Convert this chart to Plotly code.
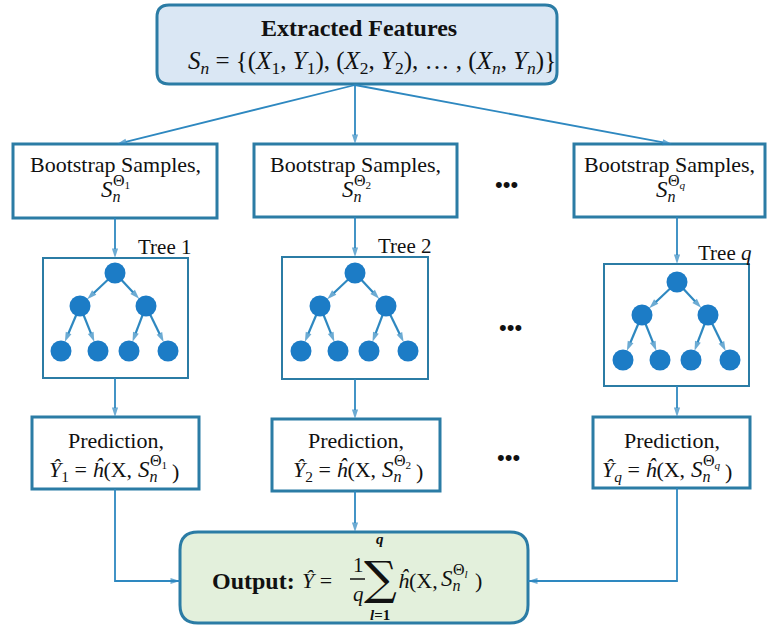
import plotly.graph_objects as go

# ---------------- text content ----------------
TITLE = "<b>Extracted Features</b>"
SAMPLE_SET = ("<i>S</i><sub><i>n</i></sub> = {(<i>X</i><sub>1</sub>, <i>Y</i><sub>1</sub>), "
              "(<i>X</i><sub>2</sub>, <i>Y</i><sub>2</sub>), … , "
              "(<i>X</i><sub><i>n</i></sub>, <i>Y</i><sub><i>n</i></sub>)}")
BOOT_LABEL = "Bootstrap Samples,"
TREE_LABELS = ["Tree 1", "Tree 2", "Tree <i>q</i>"]
TREE_INDEX = ["1", "2", "<i>q</i>"]
PRED_LABEL = "Prediction,"
OUTPUT_LABEL = "<b>Output:</b>"
ELLIPSIS = "•••"
NODES_PER_LEVEL = [1, 2, 4]

# ---------------- geometry (pixels) ----------------
W, H = 767, 628
TOP_BOX = (157, 5, 557, 84)
OUT_BOX = (180, 532, 528, 623)
BOOT_BOXES = [(13, 144, 217, 218), (254, 144, 457, 217), (574, 144, 765, 217)]
TREE_BOXES = [(43, 258, 188, 378), (282, 257, 428, 379), (604, 264, 749, 386)]
PRED_BOXES = [(32, 417, 199, 489), (272, 419, 440, 491), (593, 417, 750, 488)]
PRED_S_DX = [17, 21, 14]
COL_X = [115, 355, 677]
TREE_ROOT_Y = [273, 273, 282]
LEVEL_DX = [[0], [-35, 31], [-54, -17, 14, 53]]
LEVEL_DY = [0, 33, 78]
DOTS_POS = [(506, 184), (510, 327), (508, 457)]

BORDER = "#2b7ca5"
ARROW = "#2e88c0"
NODE = "#1c7cc6"
TOPFILL = "#dae7f4"
OUTFILL = "#e3f0dc"
SERIF = "Liberation Serif"
TXT = "#111111"

fig = go.Figure()


def rounded(x0, y0, x1, y1, r):
    return (f"M {x0+r},{y0} L {x1-r},{y0} Q {x1},{y0} {x1},{y0+r} "
            f"L {x1},{y1-r} Q {x1},{y1} {x1-r},{y1} L {x0+r},{y1} "
            f"Q {x0},{y1} {x0},{y1-r} L {x0},{y0+r} Q {x0},{y0} {x0+r},{y0} Z")


def rect(box, width=3):
    x0, y0, x1, y1 = box
    fig.add_shape(type="rect", x0=x0, y0=y0, x1=x1, y1=y1, layer="below",
                  line=dict(color=BORDER, width=width), fillcolor="white")


def text(x, y, s, size=22, xanchor="center", yanchor="middle", color=TXT, family=SERIF):
    fig.add_annotation(x=x, y=y, text=s, showarrow=False, xanchor=xanchor, yanchor=yanchor,
                       font=dict(family=family, size=size, color=color), borderpad=0,
                       borderwidth=0)


def arrow(pts, standoff=0, width=1.8, head=10):
    xs = [p[0] for p in pts]
    ys = [p[1] for p in pts]
    sizes = [0] * (len(pts) - 1) + [head]
    fig.add_trace(go.Scatter(x=xs, y=ys, mode="lines+markers", hoverinfo="skip",
                             line=dict(color=ARROW, width=width),
                             marker=dict(symbol="arrow", size=sizes, angleref="previous",
                                         color=ARROW, standoff=standoff, line=dict(width=0))))


def s_theta(xl, y, idx, size=23, tx=12, ty=10):
    # S_n with stacked superscript Theta_idx
    text(xl, y, "<i>S</i><sub><i>n</i></sub>", size=size, xanchor="left")
    text(xl + tx, y - ty, "Θ<sub>" + idx + "</sub>", size=16, xanchor="left")


# ---------------- top box ----------------
fig.add_shape(type="path", path=rounded(*TOP_BOX, 12), layer="below",
              line=dict(color=BORDER, width=3), fillcolor=TOPFILL)
text(359, 28, TITLE, size=24)
text(372, 62, SAMPLE_SET, size=25)

# ---------------- output box ----------------
fig.add_shape(type="path", path=rounded(*OUT_BOX, 18), layer="below",
              line=dict(color=BORDER, width=3), fillcolor=OUTFILL)

# top box -> bootstrap boxes
for tx in (117, 355, 672):
    arrow([(355, 85), (tx, 144)])

# ---------------- columns ----------------
for i in range(3):
    bx = BOOT_BOXES[i]
    rect(bx)
    cx = (bx[0] + bx[2]) / 2
    text(cx, 164, BOOT_LABEL, size=22)
    s_theta(cx - 14, 191, TREE_INDEX[i])

    tb = TREE_BOXES[i]
    rect(tb, width=2)
    text(tb[2] + 3, tb[1] - 11, TREE_LABELS[i], size=21, xanchor="right")

    pb = PRED_BOXES[i]
    rect(pb)
    pcx = (pb[0] + pb[2]) / 2
    text(pcx, 440, PRED_LABEL, size=22)
    xs = pcx + PRED_S_DX[i]
    yb = 471
    text(xs - 1, yb, "<i>Ŷ</i><sub>" + TREE_INDEX[i] + "</sub> = <i>ĥ</i>(X,", size=22, xanchor="right")
    s_theta(xs + 5, yb, TREE_INDEX[i])
    text(xs + 39, yb, ")", size=22, xanchor="left")

    # vertical connectors
    arrow([(COL_X[i], bx[3]), (COL_X[i], tb[1])])
    arrow([(COL_X[i], tb[3]), (COL_X[i], pb[1])])

    # tree edges then nodes
    cxn, ry = COL_X[i], TREE_ROOT_Y[i]
    pts = [[(cxn + dx, ry + LEVEL_DY[l]) for dx in LEVEL_DX[l]] for l in range(3)]
    for l in range(2):
        for k, par in enumerate(pts[l]):
            for ch in (pts[l + 1][2 * k], pts[l + 1][2 * k + 1]):
                arrow([par, ch], standoff=10, width=2.2, head=10)
    xs_n = [p[0] for lv in pts for p in lv]
    ys_n = [p[1] for lv in pts for p in lv]
    fig.add_trace(go.Scatter(x=xs_n, y=ys_n, mode="markers", hoverinfo="skip",
                             marker=dict(size=21, color=NODE, line=dict(width=0))))

# predictions -> output
arrow([(115, 489), (115, 581), (180, 581)])
arrow([(355, 491), (355, 532)])
arrow([(677, 488), (677, 581), (528, 581)])

# ellipses
for (dx_, dy_) in DOTS_POS:
    text(dx_, dy_, ELLIPSIS, size=22, family="Liberation Sans")

# ---------------- output formula ----------------
text(212, 581, OUTPUT_LABEL, size=24, xanchor="left")
text(302, 580, "<i>Ŷ</i> =", size=22, xanchor="left")
text(358, 565, "1", size=21)
fig.add_shape(type="line", x0=350, y0=579, x1=365, y1=579, line=dict(color=TXT, width=1.5))
text(358, 594, "<i>q</i>", size=21)
text(380, 578, "∑", size=46, family="DejaVu Serif")
text(380, 539, "<b><i>q</i></b>", size=15)
text(380, 615, "<b><i>l</i>=1</b>", size=15)
text(438, 580, "<i>ĥ</i>(X,", size=22, xanchor="right")
s_theta(441, 580, "<i>l</i>")
text(475, 580, ")", size=22, xanchor="left")

fig.update_xaxes(range=[0, W], visible=False, fixedrange=True)
fig.update_yaxes(range=[H, 0], visible=False, fixedrange=True)
fig.update_layout(width=W, height=H, margin=dict(l=0, r=0, t=0, b=0),
                  plot_bgcolor="white", paper_bgcolor="white", showlegend=False)

fig.write_html("out.html", config={"displayModeBar": False},
               post_script="document.body.style.margin='0px';")
